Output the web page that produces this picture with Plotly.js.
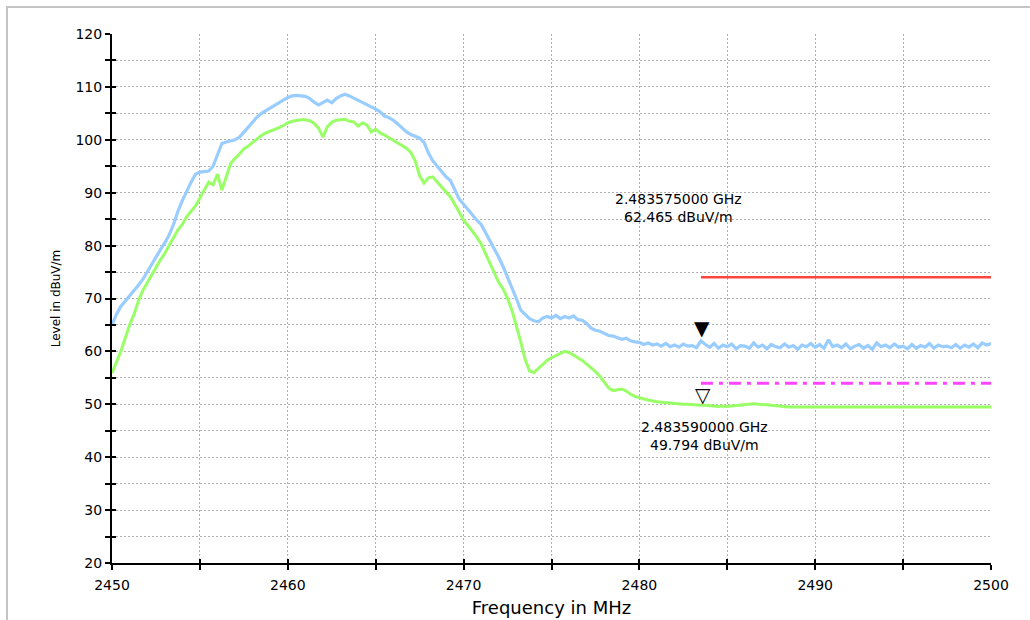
<!DOCTYPE html>
<html>
<head>
<meta charset="utf-8">
<script src="https://cdn.plot.ly/plotly-3.0.1.min.js"></script>
<style>
  html, body { margin:0; padding:0; background:#fff; overflow:hidden; }
  #wrap { position:relative; width:1030px; height:620px; }
  #chart { position:absolute; left:0; top:0; width:1030px; height:620px; }
  #frame { position:absolute; left:6px; top:6px; width:1100px; height:700px;
           border:2px solid #c4c4c4; pointer-events:none; z-index:5; }
</style>
</head>
<body>
<div id="wrap"><div id="chart"></div><div id="frame"></div></div>
<script>
// Sweep: 2450 MHz to 2500 MHz, 0.25 MHz per point
const sweepStart = 2450;
const sweepStep = 0.25;

// Peak detector trace (dBuV/m)
const peakLevel = [
  65.0, 67.0, 68.5, 69.5, 70.5, 71.3, 72.5, 73.6,
  75.0, 76.5, 78.0, 79.2, 80.5, 82.0, 84.0, 86.5,
  88.5, 90.3, 92.0, 93.5, 93.9, 94.0, 94.1, 95.0,
  97.0, 99.3, 99.6, 99.8, 100.0, 100.5, 101.5, 102.5,
  103.5, 104.3, 105.0, 105.5, 106.0, 106.5, 107.0, 107.5,
  108.0, 108.3, 108.4, 108.3, 108.2, 107.8, 107.1, 106.6,
  107.0, 107.5, 107.0, 107.8, 108.3, 108.6, 108.3, 107.9,
  107.5, 107.0, 106.6, 106.2, 105.8, 105.3, 104.5, 104.2,
  103.7, 103.0, 102.3, 101.5, 101.0, 100.6, 100.3, 99.5,
  97.5, 96.0, 95.0, 94.0, 93.0, 92.3, 90.5, 88.8,
  87.8, 86.8, 85.6, 84.8, 84.0, 82.5, 81.1, 79.5,
  77.8, 76.0, 74.0, 72.3, 70.0, 67.8, 67.0, 66.2,
  65.8, 65.6, 66.3, 66.6, 66.3, 66.8, 66.2, 66.6,
  66.3, 66.7, 66.0, 65.9, 65.3, 64.4, 64.0, 63.8,
  63.4, 63.0, 62.9, 62.6, 62.3, 62.5, 62.0, 61.8,
  61.7, 61.3, 61.6, 61.2, 61.4, 61.0, 61.5, 60.9,
  61.2, 60.8, 61.4, 61.0, 61.1, 60.7, 62.0, 61.3,
  60.8, 61.5, 60.6, 61.2, 60.9, 61.4, 60.5, 61.1,
  61.0, 60.6, 61.6, 60.8, 61.2, 60.5, 61.3, 60.9,
  60.7, 61.4, 60.8, 61.1, 60.4, 61.2, 60.9, 61.5,
  60.8, 61.3, 60.6, 62.2, 60.9, 61.2, 60.7, 61.4,
  60.5, 61.0, 61.3, 60.6, 61.1, 60.4, 61.6, 60.9,
  61.2, 60.7, 61.4, 60.8, 61.0, 60.5, 61.3, 60.6,
  61.1, 60.8, 61.5, 60.6, 61.2, 60.9, 61.0, 60.7,
  61.3, 60.6, 61.2, 60.8, 61.4, 60.7, 61.6, 61.2,
  61.5
];

// Average detector trace (dBuV/m)
const avgLevel = [
  55.9, 58.0, 60.0, 62.5, 65.0, 67.0, 69.5, 71.5,
  73.0, 74.5, 76.0, 77.3, 78.5, 80.0, 81.5, 83.0,
  84.0, 85.5, 86.5, 87.5, 89.0, 90.5, 92.0, 91.5,
  93.5, 90.5, 93.0, 95.5, 96.5, 97.3, 98.3, 98.8,
  99.5, 100.2, 100.8, 101.3, 101.6, 102.0, 102.3, 102.7,
  103.2, 103.5, 103.7, 103.8, 103.8, 103.6, 103.1, 102.2,
  100.5, 102.5, 103.3, 103.7, 103.8, 103.9, 103.5, 103.4,
  102.6, 103.2, 102.8, 101.5, 102.0, 101.3, 100.9, 100.4,
  100.0, 99.5, 99.0, 98.4, 97.6, 96.0, 93.2, 91.8,
  92.8, 93.0, 92.0, 91.0, 90.0, 89.2, 87.8, 86.2,
  84.8, 83.8, 82.8, 81.6, 80.3, 78.5, 76.5, 74.6,
  73.0, 71.8, 70.0, 67.8, 65.0, 61.8, 58.5, 56.3,
  56.0, 56.8, 57.6, 58.3, 58.8, 59.2, 59.7, 60.0,
  59.8, 59.3, 58.8, 58.3, 57.6, 56.9, 56.2, 55.3,
  54.3, 53.1, 52.6, 52.8, 52.9, 52.5, 51.9, 51.5,
  51.2, 51.0, 50.8, 50.6, 50.5, 50.4, 50.3, 50.2,
  50.1, 50.1, 50.0, 50.0, 49.9, 49.9, 49.8, 49.8,
  49.7, 49.7, 49.6, 49.7, 49.6, 49.7, 49.8, 49.9,
  50.0, 50.0, 50.1, 50.0, 50.0, 49.9, 49.8, 49.7,
  49.6, 49.6, 49.5, 49.5, 49.5, 49.4, 49.4, 49.5,
  49.4, 49.4, 49.5, 49.4, 49.4, 49.4, 49.5, 49.4,
  49.4, 49.5, 49.4, 49.4, 49.5, 49.4, 49.4, 49.5,
  49.4, 49.4, 49.5, 49.4, 49.4, 49.5, 49.4, 49.4,
  49.5, 49.4, 49.4, 49.5, 49.4, 49.4, 49.5, 49.4,
  49.4, 49.5, 49.4, 49.4, 49.5, 49.4, 49.5, 49.5,
  49.5
];

// Limit lines
const limitFreq = [2483.5, 2500];
const peakLimit = [74, 74];
const avgLimit = [54, 54];

// Markers
const markerFreqGHz = [2.483575, 2.483590];
const markerLevel = [62.465, 49.794];
const markerText = ['2.483575000 GHz<br>62.465 dBuV/m', '2.483590000 GHz<br>49.794 dBuV/m'];

// Axis ticks
const xTicks = [2450, 2460, 2470, 2480, 2490, 2500];
const yTicks = [20, 30, 40, 50, 60, 70, 80, 90, 100, 110, 120];

const freq = peakLevel.map((_, i) => sweepStart + i * sweepStep);
const markerFreq = markerFreqGHz.map(g => g * 1000);

const FONT = 'DejaVu Sans, Liberation Sans, Arial, sans-serif';

const traces = [
  { x: freq, y: peakLevel, type: 'scatter', mode: 'lines',
    line: { color: '#99ccff', width: 3.2 }, hoverinfo: 'skip' },
  { x: freq, y: avgLevel, type: 'scatter', mode: 'lines',
    line: { color: '#99ff66', width: 3 }, hoverinfo: 'skip' },
  { x: limitFreq, y: peakLimit, type: 'scatter', mode: 'lines',
    line: { color: '#ff4444', width: 2.5 }, hoverinfo: 'skip' },
  { x: limitFreq, y: avgLimit, type: 'scatter', mode: 'lines',
    line: { color: '#ff44ff', width: 3, dash: '12px,6px,4px,6px' }, hoverinfo: 'skip' },
  { x: [], y: [], xaxis: 'x2', yaxis: 'y2', type: 'scatter', hoverinfo: 'skip' }
];

const gridCol = '#b0b0b0';
const gridDash = '2px,2px';
const layout = {
  width: 1030, height: 620,
  margin: { l: 112, r: 39, t: 34, b: 57 },
  paper_bgcolor: '#ffffff', plot_bgcolor: '#ffffff',
  showlegend: false,
  font: { family: FONT, size: 14, color: '#000' },
  xaxis: {
    range: [2450, 2500], tickvals: xTicks, ticktext: xTicks.map(String),
    ticks: 'outside', ticklen: 5, tickwidth: 2, tickcolor: '#000',
    showline: true, linecolor: '#000', linewidth: 2,
    showgrid: true, gridcolor: gridCol, griddash: gridDash, gridwidth: 1,
    minor: { dtick: 5, tick0: 2450, ticks: 'outside', ticklen: 5, tickwidth: 2, tickcolor: '#000',
             showgrid: true, gridcolor: gridCol, griddash: gridDash, gridwidth: 1 },
    zeroline: false, tickfont: { family: FONT, size: 14, color: '#000' },
    ticklabelstandoff: 3,
    title: { text: 'Frequency in MHz', font: { family: FONT, size: 18, color: '#000' }, standoff: 10 }
  },
  yaxis: {
    range: [20, 120], tickvals: yTicks, ticktext: yTicks.map(String),
    ticks: 'outside', ticklen: 5, tickwidth: 2, tickcolor: '#000',
    showline: true, linecolor: '#000', linewidth: 2,
    showgrid: true, gridcolor: gridCol, griddash: gridDash, gridwidth: 1,
    minor: { dtick: 5, tick0: 20, ticks: 'outside', ticklen: 5, tickwidth: 2, tickcolor: '#000',
             showgrid: true, gridcolor: gridCol, griddash: gridDash, gridwidth: 1 },
    zeroline: false, tickfont: { family: FONT, size: 14, color: '#000' },
    title: { text: 'Level in dBuV/m', font: { family: FONT, size: 12, color: '#000' }, standoff: 12 }
  },
  xaxis2: {
    overlaying: 'x', anchor: 'y2', range: [2450, 2500], dtick: 5, tick0: 2450,
    ticks: 'inside', ticklen: 4, tickwidth: 2, tickcolor: '#000',
    showticklabels: false, showgrid: false, showline: false, zeroline: false
  },
  yaxis2: {
    overlaying: 'y', anchor: 'x2', range: [20, 120], dtick: 5, tick0: 20,
    ticks: 'inside', ticklen: 4, tickwidth: 2, tickcolor: '#000',
    showticklabels: false, showgrid: false, showline: false, zeroline: false
  },
  annotations: [
    { x: 2482.25, y: 87.1, xref: 'x', yref: 'y', text: markerText[0], showarrow: false,
      font: { family: FONT, size: 14, color: '#000' }, align: 'center' },
    { x: 2483.73, y: 44.1, xref: 'x', yref: 'y', text: markerText[1], showarrow: false,
      font: { family: FONT, size: 14, color: '#000' }, align: 'center' },
    { x: markerFreq[0], y: markerLevel[0], xref: 'x', yref: 'y', text: '▼', showarrow: false,
      yanchor: 'bottom', yshift: -4, font: { family: FONT, size: 20, color: '#000' } },
    { x: markerFreq[1], y: markerLevel[1], xref: 'x', yref: 'y', text: '▽', showarrow: false,
      yanchor: 'bottom', yshift: -4, font: { family: FONT, size: 20, color: '#000' } }
  ]
};

Plotly.newPlot('chart', traces, layout, { staticPlot: true, displayModeBar: false });
</script>
</body>
</html>
